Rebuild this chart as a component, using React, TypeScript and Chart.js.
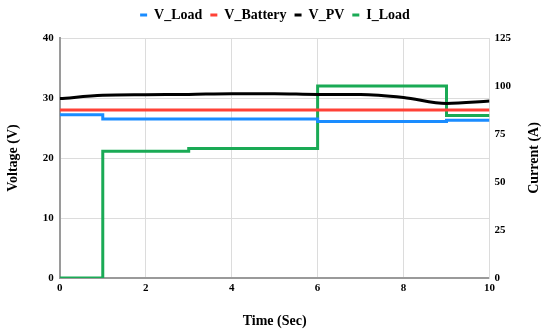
import React, { useEffect, useRef } from "react";
import { Chart, registerables } from "chart.js";

Chart.register(...registerables);

const timeLoad = [0, 1, 6, 9, 10];
const vLoad = [27.2, 26.5, 26.1, 26.3, 26.3];
const timeBattery = [0, 10];
const vBattery = [28.0, 28.0];
const timePV = [0, 1, 2, 3, 4, 5, 6, 7, 8, 9, 10];
const vPV = [29.9, 30.45, 30.55, 30.6, 30.7, 30.7, 30.6, 30.6, 30.1, 29.1, 29.5];
const timeCurrent = [0, 1, 3, 6, 9, 10];
const iLoad = [0, 66, 67.5, 100, 84.7, 84.7];

const xTicks = [0, 2, 4, 6, 8, 10];
const voltageTicks = [0, 10, 20, 30, 40];
const currentTicks = [0, 25, 50, 75, 100, 125];

const FONT = "'Liberation Serif', 'Times New Roman', serif";

const pts = (xs: number[], ys: number[]) => xs.map((x, i) => ({ x, y: ys[i] }));

export default function App() {
  const ref = useRef<HTMLCanvasElement | null>(null);
  useEffect(() => {
    if (!ref.current) return;
    const rightTitle = {
      id: "rightTitle",
      afterDraw(chart: any) {
        const { ctx, chartArea } = chart;
        ctx.save();
        ctx.font = `bold 14px ${FONT}`;
        ctx.fillStyle = "#000";
        ctx.textAlign = "center";
        ctx.textBaseline = "middle";
        ctx.translate(chart.width - 16, (chartArea.top + chartArea.bottom) / 2);
        ctx.rotate(-Math.PI / 2);
        ctx.fillText("Current (A)", 0, 0);
        ctx.restore();
      },
    };
    const legendGap = {
      id: "legendGap",
      beforeInit(chart: any) {
        const orig = chart.legend.fit;
        chart.legend.fit = function () {
          orig.bind(chart.legend)();
          this.height += 6;
        };
      },
    };
    const chart = new Chart(ref.current, {
      type: "line",
      data: {
        datasets: [
          {
            label: "V_Load",
            data: pts(timeLoad, vLoad),
            borderColor: "#1a8cff",
            backgroundColor: "#1a8cff",
            borderWidth: 3,
            pointRadius: 0,
            stepped: true,
            yAxisID: "y",
          },
          {
            label: "V_Battery",
            data: pts(timeBattery, vBattery),
            borderColor: "#ff4136",
            backgroundColor: "#ff4136",
            borderWidth: 3,
            pointRadius: 0,
            yAxisID: "y",
          },
          {
            label: "V_PV",
            data: pts(timePV, vPV),
            borderColor: "#000000",
            backgroundColor: "#000000",
            borderWidth: 3,
            pointRadius: 0,
            tension: 0.3,
            cubicInterpolationMode: "monotone",
            yAxisID: "y",
          },
          {
            label: "I_Load",
            data: pts(timeCurrent, iLoad),
            borderColor: "#1aaa55",
            backgroundColor: "#1aaa55",
            borderWidth: 3,
            pointRadius: 0,
            stepped: true,
            yAxisID: "y1",
          },
        ] as any,
      },
      options: {
        animation: false,
        responsive: false,
        maintainAspectRatio: false,
        layout: { padding: { left: 2, right: 2, top: 0, bottom: 0 } },
        plugins: {
          legend: {
            position: "top",
            labels: {
              boxWidth: 7,
              boxHeight: 3,
              padding: 8,
              color: "#000",
              font: { family: FONT, size: 14, weight: "bold" },
              generateLabels: (c: any) =>
                Chart.defaults.plugins.legend.labels
                  .generateLabels(c)
                  .map((l: any) => ({ ...l, lineWidth: 0, fillStyle: l.strokeStyle })),
            },
          },
          tooltip: { enabled: false },
        },
        scales: {
          x: {
            type: "linear",
            min: 0,
            max: 10,
            afterBuildTicks: (axis: any) => {
              axis.ticks = xTicks.map((v) => ({ value: v }));
            },
            ticks: {
              color: "#000",
              padding: 4,
              font: { family: FONT, size: 11, weight: "bold" },
            },
            grid: { color: "#dcdcdc", drawTicks: false },
            border: { color: "#9a9a9a", width: 2 },
            title: {
              display: true,
              text: "Time (Sec)",
              color: "#000",
              font: { family: FONT, size: 14, weight: "bold" },
              padding: { top: 14, bottom: 0 },
            },
          },
          y: {
            type: "linear",
            position: "left",
            min: 0,
            max: 40,
            afterBuildTicks: (axis: any) => {
              axis.ticks = voltageTicks.map((v) => ({ value: v }));
            },
            ticks: {
              color: "#000",
              padding: 6,
              font: { family: FONT, size: 11, weight: "bold" },
            },
            grid: { color: "#dcdcdc", drawTicks: false },
            border: { color: "#9a9a9a", width: 2 },
            title: {
              display: true,
              text: "Voltage (V)",
              color: "#000",
              font: { family: FONT, size: 14, weight: "bold" },
              padding: { top: 3, bottom: 15 },
            },
          },
          y1: {
            type: "linear",
            position: "right",
            min: 0,
            max: 125,
            afterBuildTicks: (axis: any) => {
              axis.ticks = currentTicks.map((v) => ({ value: v }));
            },
            afterFit: (axis: any) => {
              axis.width += 32;
            },
            ticks: {
              color: "#000",
              padding: 5,
              font: { family: FONT, size: 11, weight: "bold" },
            },
            grid: { display: false, drawTicks: false },
            border: { color: "#dcdcdc", width: 1 },
          },
        },
      } as any,
      plugins: [rightTitle, legendGap],
    });
    return () => chart.destroy();
  }, []);
  return (
    <div style={{ position: "fixed", left: 0, top: 0, width: 550, height: 330, background: "#fff" }}>
      <canvas ref={ref} width={550} height={330} style={{ width: 550, height: 330 }} />
    </div>
  );
}
